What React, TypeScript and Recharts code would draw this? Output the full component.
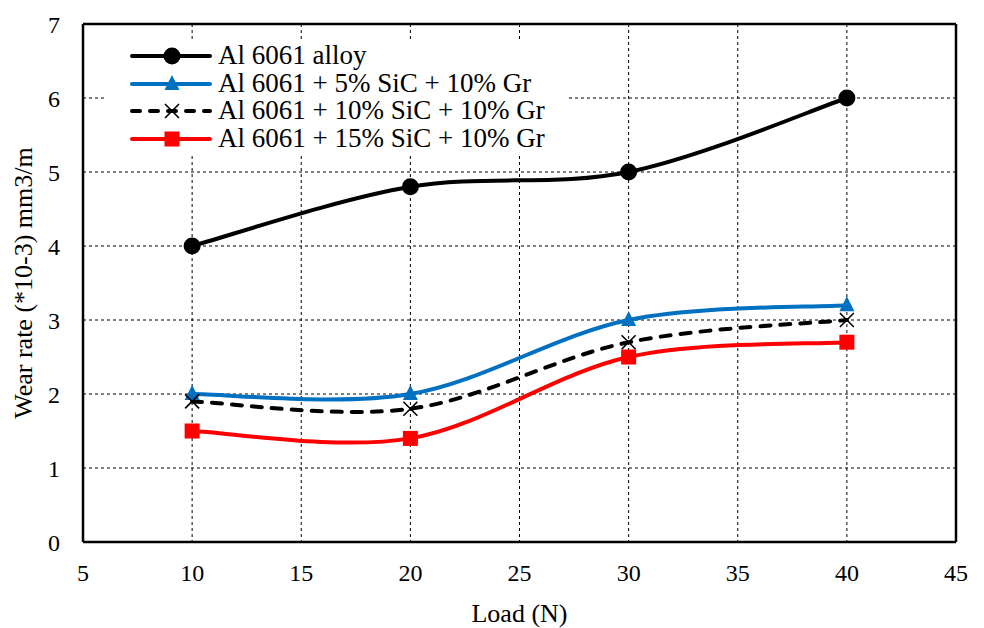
import React from 'react';
import {
  LineChart, Line, XAxis, YAxis, CartesianGrid, Legend, ReferenceLine,
} from 'recharts';

const loads = [10, 20, 30, 40];
const alloy = [4, 4.8, 5, 6];
const sic5 = [2, 2, 3, 3.2];
const sic10 = [1.9, 1.8, 2.7, 3.0];
const sic15 = [1.5, 1.4, 2.5, 2.7];
const xTicks = [5, 10, 15, 20, 25, 30, 35, 40, 45];
const yTicks = [0, 1, 2, 3, 4, 5, 6, 7];

const FONT = '"Liberation Serif", "Times New Roman", serif';

const data = loads.map((l, i) => ({
  load: l, alloy: alloy[i], sic5: sic5[i], sic10: sic10[i], sic15: sic15[i],
}));

// Excel-like smoothed line (Catmull-Rom as cubic bezier)
const excelCurve = (context: any) => {
  let pts: number[][] = [];
  return {
    areaStart() {},
    areaEnd() {},
    lineStart() { pts = []; },
    point(x: number, y: number) { pts.push([+x, +y]); },
    lineEnd() {
      if (!pts.length) return;
      context.moveTo(pts[0][0], pts[0][1]);
      for (let i = 0; i < pts.length - 1; i++) {
        const p0 = pts[Math.max(i - 1, 0)];
        const p1 = pts[i];
        const p2 = pts[i + 1];
        const p3 = pts[Math.min(i + 2, pts.length - 1)];
        context.bezierCurveTo(
          p1[0] + (p2[0] - p0[0]) / 6, p1[1] + (p2[1] - p0[1]) / 6,
          p2[0] - (p3[0] - p1[0]) / 6, p2[1] - (p3[1] - p1[1]) / 6,
          p2[0], p2[1],
        );
      }
    },
  };
};

type Shape = 'circle' | 'triangle' | 'cross' | 'square';

function marker(shape: Shape, cx: number, cy: number, color: string, key?: string) {
  if (shape === 'circle') return <circle key={key} cx={cx} cy={cy} r={8.5} fill={color} />;
  if (shape === 'triangle')
    return <path key={key} d={`M${cx},${cy - 9} L${cx + 7.5},${cy + 6} L${cx - 7.5},${cy + 6} Z`} fill={color} />;
  if (shape === 'square') return <rect key={key} x={cx - 7.5} y={cy - 7.5} width={15} height={15} fill={color} />;
  return (
    <path key={key} d={`M${cx - 7},${cy - 7} L${cx + 7},${cy + 7} M${cx - 7},${cy + 7} L${cx + 7},${cy - 7}`}
      stroke={color} strokeWidth={1.6} fill="none" />
  );
}

const series = [
  { key: 'alloy', name: 'Al 6061 alloy', color: '#000000', shape: 'circle' as Shape, dash: undefined },
  { key: 'sic5', name: 'Al 6061 + 5% SiC + 10% Gr', color: '#0070C0', shape: 'triangle' as Shape, dash: undefined },
  { key: 'sic10', name: 'Al 6061 + 10% SiC + 10% Gr', color: '#000000', shape: 'cross' as Shape, dash: '10 10' },
  { key: 'sic15', name: 'Al 6061 + 15% SiC + 10% Gr', color: '#FF0000', shape: 'square' as Shape, dash: undefined },
];

function LegendBox() {
  return (
    <div style={{ background: '#fff', fontFamily: FONT, fontSize: 27, color: '#000' }}>
      {series.map((s) => (
        <div key={s.key} style={{ display: 'flex', alignItems: 'center', height: 27.7, whiteSpace: 'nowrap' }}>
          <svg width={111} height={28} style={{ display: 'block' }}>
            <line x1={25} y1={14} x2={103} y2={14} stroke={s.color} strokeWidth={4}
              strokeLinecap="round" strokeDasharray={s.dash ? '8 10' : undefined} />
            {marker(s.shape, 65, 14, s.color)}
          </svg>
          <span style={{ lineHeight: '27.7px' }}>{s.name}</span>
        </div>
      ))}
    </div>
  );
}

export default function App() {
  return (
    <div style={{ position: 'absolute', left: 0, top: 0, background: '#fff' }}>
      <LineChart width={984} height={628} data={data}
        margin={{ top: 24, right: 28, left: 0, bottom: 0 }}>
        <CartesianGrid stroke="#000" strokeWidth={1} strokeDasharray="3 3" />
        <XAxis dataKey="load" type="number" domain={[5, 45]} ticks={xTicks} height={86}
          axisLine={{ stroke: '#000', strokeWidth: 2.5 }} tickLine={false} tickSize={0} tickMargin={22}
          tick={{ fill: '#000', fontSize: 24, fontFamily: FONT }}
          label={{ value: 'Load (N)', position: 'insideBottom', offset: 6, fill: '#000', fontSize: 26, fontFamily: FONT }} />
        <YAxis type="number" domain={[0, 7]} ticks={yTicks} width={83}
          axisLine={{ stroke: '#000', strokeWidth: 2.5 }} tickLine={false} tickSize={0} tickMargin={23}
          tick={{ fill: '#000', fontSize: 24, fontFamily: FONT }}
          label={{ value: 'Wear rate (*10-3) mm3/m', angle: -90, position: 'center', dx: -19, fill: '#000', fontSize: 26, fontFamily: FONT }} />
        <ReferenceLine y={7} stroke="#000" strokeWidth={2.5} />
        <ReferenceLine x={45} stroke="#000" strokeWidth={2.5} />
        <Legend layout="horizontal" verticalAlign="middle" align="center" content={() => <LegendBox />}
          wrapperStyle={{ left: 107, top: 42, width: 460 }} />
        {series.map((s) => (
          <Line key={s.key} dataKey={s.key} name={s.name} type={excelCurve as any}
            stroke={s.color} strokeWidth={4} strokeDasharray={s.dash} strokeLinecap="round"
            isAnimationActive={false}
            dot={(p: any) => marker(s.shape, p.cx, p.cy, s.color, `${s.key}-${p.index}`)}
            activeDot={false} />
        ))}
      </LineChart>
    </div>
  );
}
